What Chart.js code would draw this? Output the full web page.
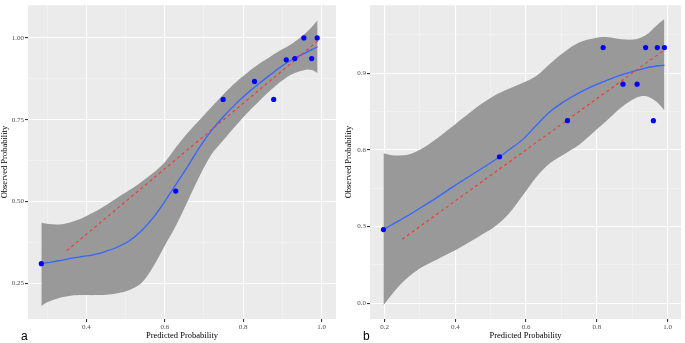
<!DOCTYPE html>
<html>
<head>
<meta charset="utf-8">
<script src="https://cdn.jsdelivr.net/npm/chart.js@4.4.0/dist/chart.umd.min.js"></script>
<style>
  body { margin: 0; background: #fff; }
  #wrap { position: relative; width: 685px; height: 343px; overflow: hidden; }
  canvas { position: absolute; top: 0; }
  #chartA { left: 0; }
  #chartB { left: 340px; }
  .tag { position: absolute; font-family: 'Liberation Sans', Arial, sans-serif; font-size: 12px; line-height: 14px; color: #000; }
</style>
</head>
<body>
<div id="wrap">
  <canvas id="chartA" width="340" height="343"></canvas>
  <canvas id="chartB" width="345" height="343"></canvas>
  <div class="tag" style="left:21px; top:329px">a</div>
  <div class="tag" style="left:363px; top:329px">b</div>
</div>
<script>
// panel a
const aPredicted = [0.285, 0.628, 0.749, 0.829, 0.878, 0.910, 0.932, 0.955, 0.975, 0.989];
const aObserved  = [0.310, 0.532, 0.812, 0.867, 0.812, 0.933, 0.937, 1.000, 0.937, 1.000];
const aSmoothX     = [0.285, 0.30, 0.33, 0.36, 0.39, 0.42, 0.45, 0.48, 0.51, 0.54, 0.57, 0.60, 0.63, 0.66, 0.69, 0.72, 0.75, 0.78, 0.81, 0.84, 0.87, 0.90, 0.93, 0.96, 0.975, 0.99];
const aSmoothFit   = [0.310, 0.313, 0.319, 0.326, 0.332, 0.338, 0.348, 0.361, 0.380, 0.410, 0.450, 0.500, 0.555, 0.610, 0.668, 0.718, 0.760, 0.797, 0.830, 0.860, 0.888, 0.915, 0.937, 0.955, 0.964, 0.973];
const aSmoothUpper = [0.435, 0.432, 0.430, 0.437, 0.450, 0.468, 0.489, 0.512, 0.535, 0.560, 0.587, 0.620, 0.668, 0.712, 0.751, 0.790, 0.828, 0.863, 0.893, 0.920, 0.943, 0.965, 0.987, 1.015, 1.033, 1.055];
const aSmoothLower = [0.181, 0.192, 0.205, 0.212, 0.214, 0.214, 0.215, 0.220, 0.230, 0.250, 0.300, 0.365, 0.430, 0.505, 0.580, 0.645, 0.688, 0.730, 0.770, 0.806, 0.840, 0.870, 0.892, 0.903, 0.902, 0.893];
const aIdeal = [0.35, 0.995];
const aXMajor = [0.4, 0.6, 0.8, 1.0];
const aXMinor = [0.3, 0.5, 0.7, 0.9];
const aXLabels = ['0.4', '0.6', '0.8', '1.0'];
const aYMajor = [0.25, 0.50, 0.75, 1.00];
const aYMinor = [0.375, 0.625, 0.875];
const aYLabels = ['0.25', '0.50', '0.75', '1.00'];

// panel b
const bPredicted = [0.197, 0.525, 0.717, 0.818, 0.874, 0.914, 0.938, 0.960, 0.971, 0.991];
const bObserved  = [0.288, 0.573, 0.714, 1.000, 0.857, 0.857, 1.000, 0.714, 1.000, 1.000];
const bSmoothX     = [0.197, 0.23, 0.27, 0.31, 0.35, 0.39, 0.43, 0.47, 0.51, 0.55, 0.59, 0.63, 0.67, 0.71, 0.75, 0.79, 0.83, 0.87, 0.91, 0.94, 0.96, 0.975, 0.991];
const bSmoothFit   = [0.288, 0.314, 0.346, 0.380, 0.415, 0.452, 0.488, 0.523, 0.558, 0.598, 0.640, 0.697, 0.752, 0.791, 0.823, 0.850, 0.873, 0.893, 0.910, 0.921, 0.926, 0.929, 0.931];
const bSmoothUpper = [0.587, 0.578, 0.583, 0.608, 0.646, 0.689, 0.733, 0.776, 0.812, 0.838, 0.862, 0.890, 0.940, 0.985, 1.020, 1.036, 1.041, 1.033, 1.033, 1.050, 1.075, 1.094, 1.112];
const bSmoothLower = [-0.008, 0.050, 0.105, 0.144, 0.172, 0.200, 0.231, 0.264, 0.298, 0.348, 0.420, 0.495, 0.550, 0.585, 0.620, 0.668, 0.717, 0.767, 0.803, 0.810, 0.797, 0.780, 0.755];
const bIdeal = [0.25, 0.995];
const bXMajor = [0.2, 0.4, 0.6, 0.8, 1.0];
const bXMinor = [0.3, 0.5, 0.7, 0.9];
const bXLabels = ['0.2', '0.4', '0.6', '0.8', '1.0'];
const bYMajor = [0.0, 0.3, 0.6, 0.9];
const bYMinor = [0.15, 0.45, 0.75, 1.05];
const bYLabels = ['0.0', '0.3', '0.6', '0.9'];

const SERIF = "'Liberation Serif', 'DejaVu Serif', serif";

const panelBg = {
    id: 'panelBg',
    beforeDraw(chart) {
        const a = chart.chartArea;
        chart.ctx.save();
        chart.ctx.fillStyle = '#EBEBEB';
        chart.ctx.fillRect(a.left, a.top, a.right - a.left, a.bottom - a.top);
        chart.ctx.restore();
    }
};

function near(list, v) {
    return list.findIndex(m => Math.abs(m - v) < 1e-9);
}

function pairs(xs, ys) {
    return xs.map((x, i) => ({ x: x, y: ys[i] }));
}

function axis(major, minor, labels, range, extra) {
    return Object.assign({
        type: 'linear',
        min: range[0],
        max: range[1],
        afterBuildTicks: (scale) => {
            scale.ticks = major.concat(minor).sort((p, q) => p - q).map(v => ({ value: v }));
        },
        ticks: {
            autoSkip: false,
            maxRotation: 0,
            padding: 1,
            color: '#4D4D4D',
            font: { family: SERIF, size: 7 },
            callback: (v) => {
                const i = near(major, v);
                return i < 0 ? '' : labels[i];
            }
        },
        grid: {
            color: (c) => (c.tick && near(major, c.tick.value) >= 0) ? '#FFFFFF' : '#F5F5F5',
            lineWidth: (c) => (c.tick && near(major, c.tick.value) >= 0) ? 1.1 : 0.6,
            tickColor: (c) => (c.tick && near(major, c.tick.value) >= 0) ? '#333333' : 'rgba(0,0,0,0)',
            tickLength: 3
        },
        border: { display: false }
    }, extra);
}

function panel(id, d) {
    new Chart(document.getElementById(id), {
        type: 'line',
        data: {
            datasets: [
                {
                    type: 'scatter',
                    data: pairs(d.px, d.py),
                    backgroundColor: '#0000FF',
                    borderWidth: 0,
                    pointRadius: 2.6,
                    order: 0
                },
                {
                    data: pairs(d.ideal, d.ideal),
                    borderColor: '#F8352A',
                    borderWidth: 1.1,
                    borderDash: [3, 3],
                    pointRadius: 0,
                    fill: false,
                    order: 1
                },
                {
                    data: pairs(d.sx, d.fit),
                    borderColor: '#3366FF',
                    borderWidth: 1.3,
                    pointRadius: 0,
                    tension: 0.35,
                    fill: false,
                    order: 2
                },
                {
                    data: pairs(d.sx, d.lower),
                    borderWidth: 0,
                    pointRadius: 0,
                    tension: 0.35,
                    backgroundColor: '#999999',
                    fill: 4,
                    order: 3
                },
                {
                    data: pairs(d.sx, d.upper),
                    borderWidth: 0,
                    pointRadius: 0,
                    tension: 0.35,
                    fill: false,
                    order: 4
                }
            ]
        },
        options: {
            responsive: false,
            animation: false,
            layout: { padding: { top: 2, right: 2, left: 0, bottom: 0 } },
            plugins: { legend: { display: false }, tooltip: { enabled: false } },
            scales: {
                x: axis(d.xMajor, d.xMinor, d.xLabels, d.xRange, {
                    afterFit: (s) => { s.height = 24; },
                    title: {
                        display: true,
                        text: 'Predicted Probability',
                        color: '#000',
                        font: { family: SERIF, size: 8.5 },
                        padding: { top: 0, bottom: 2 }
                    }
                }),
                y: axis(d.yMajor, d.yMinor, d.yLabels, d.yRange, {
                    afterFit: (s) => { s.width = d.yWidth; },
                    title: {
                        display: true,
                        text: 'Observed Probability',
                        color: '#000',
                        font: { family: SERIF, size: 8.5 },
                        padding: { top: d.yTitlePad, bottom: 0 }
                    }
                })
            }
        },
        plugins: [panelBg]
    });
}

panel('chartA', {
    px: aPredicted, py: aObserved, ideal: aIdeal,
    sx: aSmoothX, fit: aSmoothFit, upper: aSmoothUpper, lower: aSmoothLower,
    xMajor: aXMajor, xMinor: aXMinor, xLabels: aXLabels, xRange: [0.251, 1.037],
    yMajor: aYMajor, yMinor: aYMinor, yLabels: aYLabels, yRange: [0.141, 1.100],
    yWidth: 28, yTitlePad: 0
});

panel('chartB', {
    px: bPredicted, py: bObserved, ideal: bIdeal,
    sx: bSmoothX, fit: bSmoothFit, upper: bSmoothUpper, lower: bSmoothLower,
    xMajor: bXMajor, xMinor: bXMinor, xLabels: bXLabels, xRange: [0.159, 1.038],
    yMajor: bYMajor, yMinor: bYMinor, yLabels: bYLabels, yRange: [-0.062, 1.166],
    yWidth: 30, yTitlePad: 4
});
</script>
</body>
</html>
